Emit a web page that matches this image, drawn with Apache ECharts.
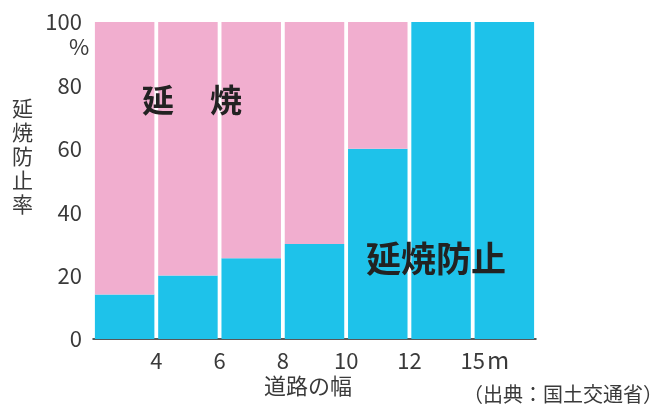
<!DOCTYPE html>
<html>
<head>
<meta charset="utf-8">
<script src="https://cdn.jsdelivr.net/npm/echarts@6/dist/echarts.min.js"></script>
<style>html,body{margin:0;padding:0;background:#fff;}#c{width:653px;height:410px;}</style>
</head>
<body>
<div id="c"></div>
<script>
const categories = ['~4', '4-6', '6-8', '8-10', '10-12', '12-15', '15~'];
const prevented = [14, 20, 25.5, 30, 60, 100, 100];
const spread = [86, 80, 74.5, 70, 40, 0, 0];
const xTickLabels = ['', '4', '6', '8', '10', '12', '15', ''];
const yTicks = [0, 20, 40, 60, 80, 100];

const FONT = '"Noto Sans CJK JP", "Noto Sans", sans-serif';
const chart = echarts.init(document.getElementById('c'));
chart.setOption({
  animation: false,
  backgroundColor: '#fff',
  grid: { left: 93, right: 117, top: 22, bottom: 71 },
  xAxis: [
    {
      type: 'category', data: categories,
      axisLine: { show: true, lineStyle: { color: '#222', width: 1.5 } },
      axisTick: { show: false }, axisLabel: { show: false }
    },
    {
      type: 'value', min: 0, max: 7, interval: 1, position: 'bottom',
      axisLine: { show: false }, axisTick: { show: false }, splitLine: { show: false },
      axisLabel: {
        margin: 11, fontSize: 22, color: '#3a3a3a', fontFamily: FONT,
        formatter: v => xTickLabels[Math.round(v)] || ''
      }
    }
  ],
  yAxis: {
    type: 'value', min: 0, max: 100, interval: 20,
    axisLine: { show: false }, axisTick: { show: false }, splitLine: { show: false },
    axisLabel: { margin: 11, fontSize: 22, color: '#3a3a3a', fontFamily: FONT,
      formatter: v => yTicks.includes(v) ? String(v) : '' }
  },
  series: [
    { type: 'bar', stack: 's', data: prevented, barCategoryGap: '6%',
      itemStyle: { color: '#1EC2EA' } },
    { type: 'bar', stack: 's', data: spread, barCategoryGap: '6%',
      itemStyle: { color: '#F1AECF' } }
  ],
  graphic: [
    { type: 'text', z: 100, left: 12, top: 96, style: { text: '延\n焼\n防\n止\n率', font: '21px ' + FONT, fill: '#3a3a3a', lineHeight: 24 } },
    { type: 'text', z: 100, left: 69, top: 36, style: { text: '%', font: '22px ' + FONT, fill: '#3a3a3a' } },
    { type: 'text', z: 100, left: 487, top: 348, style: { text: 'm', font: '24px ' + FONT, fill: '#3a3a3a' } },
    { type: 'text', z: 100, left: 264, top: 375, style: { text: '道路の幅', font: '22px ' + FONT, fill: '#3a3a3a' } },
    { type: 'text', z: 100, left: 463, top: 384, style: { text: '（出典：国土交通省）', font: '20px ' + FONT, fill: '#3a3a3a' } },
    { type: 'text', z: 100, left: 142, top: 84, style: { text: '延', font: 'bold 32px ' + FONT, fill: '#222' } },
    { type: 'text', z: 100, left: 210, top: 84, style: { text: '焼', font: 'bold 32px ' + FONT, fill: '#222' } },
    { type: 'text', z: 100, left: 366, top: 241, style: { text: '延焼防止', font: 'bold 35px ' + FONT, fill: '#222' } }
  ]
});
</script>
</body>
</html>
